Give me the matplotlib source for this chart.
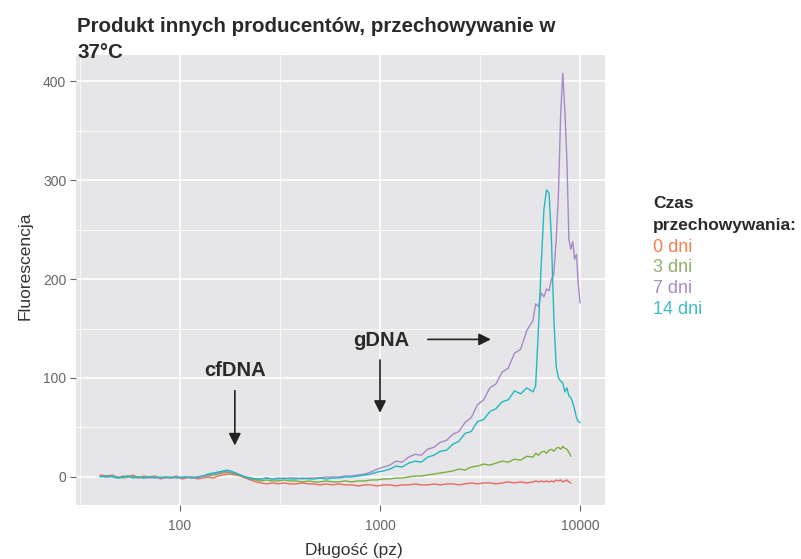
import numpy as np
import matplotlib.pyplot as plt

plt.rcParams['font.family'] = ['Liberation Sans', 'DejaVu Sans']

nan = np.nan

# dlugosc fragmentow (pz)
x_bp = [40, 43, 46, 49, 52, 55, 58, 62, 66, 70,
        75, 80, 85, 90, 96, 102, 108, 115, 122, 130,
        138, 146, 155, 164, 172, 180, 190, 200, 212, 225,
        240, 255, 270, 290, 310, 330, 355, 380, 410, 440,
        470, 500, 540, 580, 620, 670, 720, 780, 840, 900,
        970, 1040, 1120, 1200, 1290, 1390, 1500, 1610, 1730, 1860,
        2000, 2150, 2310, 2480, 2660, 2860, 3070, 3300, 3540, 3800,
        4080, 4380, 4700, 5050, 5420, 5820, 6000, 6200, 6400, 6600,
        6800, 7000, 7200, 7400, 7600, 7800, 8000, 8200, 8400, 8600,
        8800, 9000, 9200, 9400, 9600, 9800, 10000]

# fluorescencja - 0 dni
y_0 = [2, 1, 2, -1, 1, 0, 2, -1, 1, 0,
       1, -2, 0, -1, 1, -2, -1, 0, -2, -1,
       0, -1, 1, 2, 3, 3, 2, 1, -1, -3,
       -5, -6, -7, -6, -7, -6, -7, -7, -6, -7,
       -7, -8, -7, -8, -7, -8, -8, -9, -8, -8,
       -9, -8, -8, -9, -8, -8, -7, -8, -8, -7,
       -8, -7, -7, -8, -7, -6, -7, -6, -6, -7,
       -6, -5, -6, -5, -6, -5, -4, -5, -4, -5,
       -4, -5, -4, -5, -3, -4, -3, -5, -4, -3,
       -5, -6, nan, nan, nan, nan, nan]

# 3 dni
y_3 = [1, 0, 1, 0, -1, 0, 1, 0, -1, 0,
       0, -1, 0, -1, 0, -1, 0, -1, 0, 1,
       1, 2, 3, 4, 5, 4, 3, 2, 0, -2,
       -3, -4, -3, -4, -4, -3, -4, -4, -5, -4,
       -5, -5, -4, -5, -5, -4, -5, -4, -4, -3,
       -3, -2, -2, -1, -1, 0, 1, 1, 2, 3,
       4, 5, 6, 8, 7, 10, 11, 13, 12, 14,
       16, 15, 18, 17, 21, 20, 24, 22, 25, 26,
       24, 27, 28, 26, 29, 30, 28, 31, 29, 28,
       25, 21, nan, nan, nan, nan, nan]

# 7 dni
y_7 = [1, 0, 1, -1, 0, 1, 0, -1, 0, -1,
       0, -1, 0, -1, 0, -1, 0, 0, -1, 1,
       2, 3, 4, 5, 6, 5, 4, 2, 0, -1,
       -2, -2, -1, -2, -1, -2, -1, -1, -2, -1,
       -1, -1, 0, 0, 0, 1, 1, 2, 3, 5,
       8, 10, 12, 16, 15, 20, 23, 22, 28, 30,
       35, 37, 43, 46, 55, 60, 73, 78, 90, 94,
       106, 110, 125, 129, 148, 158, 175, 172, 186, 182,
       190, 188, 200, 205, 240, 285, 365, 408, 370, 320,
       240, 230, 238, 220, 225, 195, 176]

# 14 dni
y_14 = [0, 1, 0, -1, 0, 1, -1, 0, -1, 0,
        -1, 0, -1, 0, -1, 0, 0, -1, 0, 1,
        3, 4, 5, 6, 7, 6, 4, 2, 0, -1,
        -2, -2, -1, -2, -2, -1, -2, -2, -1, -2,
        -2, -1, -2, -1, -1, 0, 0, 1, 2, 3,
        5, 6, 8, 11, 10, 14, 16, 15, 20, 22,
        26, 27, 33, 36, 44, 46, 56, 58, 66, 69,
        76, 78, 87, 84, 90, 86, 92, 150, 215, 270,
        290, 287, 240, 160, 112, 100, 97, 95, 86, 90,
        82, 80, 75, 68, 60, 56, 55]

labels = ['0 dni', '3 dni', '7 dni', '14 dni']
line_colors = ['#EA6A5E', '#7DAE3E', '#A889C8', '#20B9C3']
label_colors = ['#F47F4F', '#8DB06A', '#A98BC6', '#3FBDCB']

fig = plt.figure(figsize=(8.01, 5.59), dpi=100)
ax = fig.add_axes([76 / 801, 54 / 559, 529 / 801, 450 / 559])
ax.set_facecolor('#E6E6E9')

for ys, c in zip([y_0, y_3, y_7, y_14], line_colors):
    ax.plot(x_bp, ys, color=c, lw=1.0)

ax.set_xscale('log')
ax.set_xlim(10 ** 1.48, 10 ** 4.125)
ax.set_ylim(-28.3, 426.3)
ax.set_xticks([100, 1000, 10000])
ax.set_xticklabels(['100', '1000', '10000'])
ax.set_xticks([10 ** 1.5, 10 ** 2.5, 10 ** 3.5], minor=True)
ax.set_yticks([0, 100, 200, 300, 400])
ax.set_yticks([50, 150, 250, 350], minor=True)
ax.xaxis.set_minor_formatter(plt.NullFormatter())
ax.grid(which='major', color='white', lw=1.2)
ax.grid(which='minor', color='white', lw=0.6)
ax.set_axisbelow(True)
ax.tick_params(which='major', length=4, color='#666666', labelcolor='#666666',
               labelsize=10, pad=3)
ax.tick_params(axis='x', which='major', pad=6)
ax.tick_params(which='minor', length=0)
for s in ax.spines.values():
    s.set_visible(False)

fig.text(354 / 801, 1 - 550 / 559, 'Długość (pz)', ha='center', va='center',
         fontsize=12.5, color='#333333')
fig.text(25 / 801, 1 - 266 / 559, 'Fluorescencja', ha='center', va='center',
         rotation=90, fontsize=12.5, color='#333333')

# adnotacje
ax.text(188, 108, 'cfDNA', ha='center', va='center', fontsize=14.5,
        fontweight='bold', color='#2a2a2a')
ax.annotate('', xy=(188, 29), xytext=(188, 90),
            arrowprops=dict(arrowstyle='-|>', color='#222222', lw=1.2,
                            mutation_scale=18))
ax.text(1010, 138, 'gDNA', ha='center', va='center', fontsize=14.5,
        fontweight='bold', color='#2a2a2a')
ax.annotate('', xy=(1000, 62), xytext=(1000, 121),
            arrowprops=dict(arrowstyle='-|>', color='#222222', lw=1.2,
                            mutation_scale=18))
ax.annotate('', xy=(3700, 139), xytext=(1680, 139),
            arrowprops=dict(arrowstyle='-|>', color='#222222', lw=1.2,
                            mutation_scale=18))

# tytul
fig.text(77 / 801, 1 - 32 / 559, 'Produkt innych producentów, przechowywanie w',
         ha='left', va='baseline', fontsize=14.8, fontweight='bold',
         color='#2a2a2a')
fig.text(77 / 801, 1 - 58 / 559, '37°C', ha='left', va='baseline',
         fontsize=14.8, fontweight='bold', color='#2a2a2a')

# legenda
fig.text(653 / 801, 1 - 208 / 559, 'Czas', ha='left', va='baseline',
         fontsize=12.5, fontweight='bold', color='#2a2a2a')
fig.text(653 / 801, 1 - 230 / 559, 'przechowywania:', ha='left',
         va='baseline', fontsize=12.5, fontweight='bold', color='#2a2a2a')
for i, (lab, c) in enumerate(zip(labels, label_colors)):
    fig.text(653 / 801, 1 - (252 + i * 20.5) / 559, lab, ha='left',
             va='baseline', fontsize=13, color=c)

fig.savefig('out.png', dpi=100)
